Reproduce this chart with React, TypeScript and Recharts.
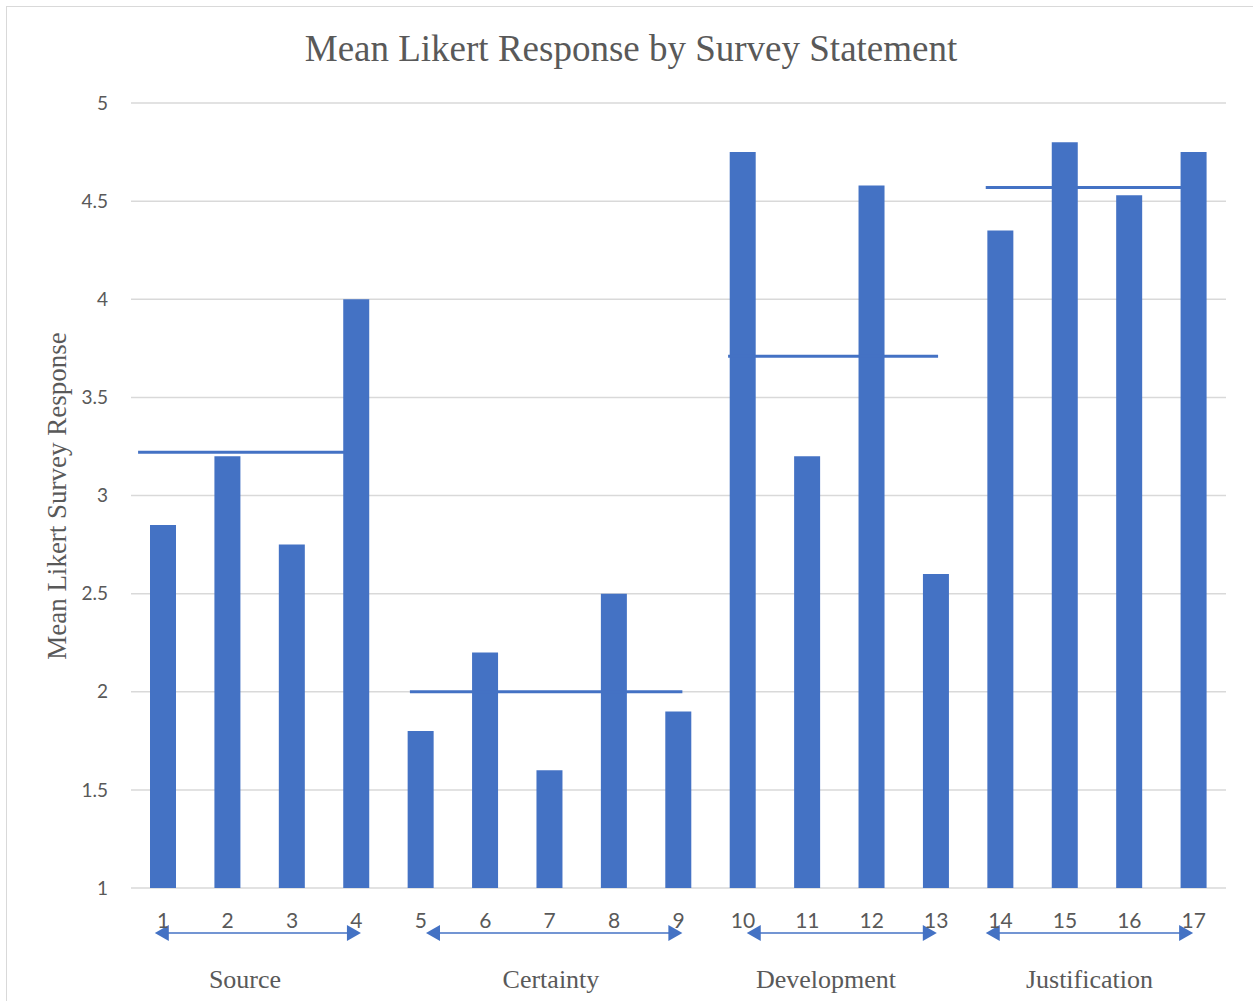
import { Bar, BarChart, CartesianGrid, ReferenceLine, XAxis, YAxis } from "recharts";

const statements = ["1", "2", "3", "4", "5", "6", "7", "8", "9", "10", "11", "12", "13", "14", "15", "16", "17"];
const meanResponses = [2.85, 3.2, 2.75, 4.0, 1.8, 2.2, 1.6, 2.5, 1.9, 4.75, 3.2, 4.58, 2.6, 4.35, 4.8, 4.53, 4.75];
const yTicks = [1, 1.5, 2, 2.5, 3, 3.5, 4, 4.5, 5];

const groupNames = ["Source", "Certainty", "Development", "Justification"];
const groupMeans = [3.22, 2.0, 3.71, 4.57];

// annotation extents, in statement units on the hidden numeric axis
const meanSpans: [number, number][] = [[0.61, 3.84], [4.83, 9.06], [9.77, 13.03], [13.77, 16.84]];
const arrowSpans: [number, number][] = [[0.87, 4.07], [5.08, 9.06], [10.06, 13.01], [13.77, 16.99]];
const labelCenters = [2.27, 7.02, 11.29, 15.38];
const arrowLevel = 0.771;

const chartData = statements.map((s, i) => ({ statement: s, position: i + 1, response: meanResponses[i] }));

const BLUE = "#4472C4";
const TEXT = "#595959";
const SERIF = "'Liberation Serif', 'Times New Roman', serif";
const SANS = "Lato, 'Open Sans', sans-serif";

function GroupArrow(props: any) {
    const { x1, y1, x2, name, start, end, center } = props;
    const head = 14;
    const half = 8;
    const labelX = x1 + ((center - start) / (end - start)) * (x2 - x1);
    return (
        <g>
            <line x1={x1 + head - 2} y1={y1} x2={x2 - head + 2} y2={y1} stroke={BLUE} strokeWidth={1.5} />
            <polygon points={`${x1},${y1} ${x1 + head},${y1 - half} ${x1 + head},${y1 + half}`} fill={BLUE} />
            <polygon points={`${x2},${y1} ${x2 - head},${y1 - half} ${x2 - head},${y1 + half}`} fill={BLUE} />
            <text x={labelX} y={y1 + 55} textAnchor="middle" fontFamily={SERIF} fontSize={26} fill={TEXT}>
                {name}
            </text>
        </g>
    );
}

export default function App() {
    return (
        <div style={{ position: "absolute", left: 0, top: 0, width: 1253, height: 1001, overflow: "hidden", background: "#fff" }}>
            <div style={{ position: "absolute", left: 6, top: 6, width: 1300, height: 1100, border: "1px solid #d9d9d9" }} />
            <BarChart
                width={1253}
                height={1001}
                data={chartData}
                margin={{ top: 103, right: 27, bottom: 83, left: 71 }}
                style={{ position: "absolute", left: 0, top: 0 }}
            >
                <text x={631} y={61} textAnchor="middle" fontFamily={SERIF} fontSize={37} fill={TEXT}>
                    Mean Likert Response by Survey Statement
                </text>
                <text
                    x={66}
                    y={496}
                    transform="rotate(-90, 66, 496)"
                    textAnchor="middle"
                    fontFamily={SERIF}
                    fontSize={27}
                    fill={TEXT}
                >
                    Mean Likert Survey Response
                </text>
                <CartesianGrid vertical={false} stroke="#d9d9d9" strokeWidth={1.5} />
                <XAxis
                    xAxisId="cat"
                    dataKey="statement"
                    interval={0}
                    height={30}
                    tickLine={false}
                    axisLine={false}
                    tickMargin={19}
                    tick={{ fill: TEXT, fontSize: 21, fontFamily: SANS }}
                />
                <XAxis
                    xAxisId="pos"
                    dataKey="position"
                    type="number"
                    domain={[0.5, 17.5]}
                    allowDataOverflow
                    hide
                />
                <YAxis
                    width={60}
                    domain={[1, 5]}
                    ticks={yTicks}
                    interval={0}
                    tickLine={false}
                    axisLine={false}
                    tickMargin={17}
                    tick={{ fill: TEXT, fontSize: 19, fontFamily: SANS }}
                />
                {groupNames.map((name, i) => (
                    <ReferenceLine
                        key={`mean-${name}`}
                        xAxisId="pos"
                        segment={[
                            { x: meanSpans[i][0], y: groupMeans[i] },
                            { x: meanSpans[i][1], y: groupMeans[i] },
                        ]}
                        stroke={BLUE}
                        strokeWidth={3}
                    />
                ))}
                <Bar xAxisId="cat" dataKey="response" fill={BLUE} barSize={26} isAnimationActive={false} />
                {groupNames.map((name, i) => (
                    <ReferenceLine
                        key={`arrow-${name}`}
                        xAxisId="pos"
                        ifOverflow="visible"
                        segment={[
                            { x: arrowSpans[i][0], y: arrowLevel },
                            { x: arrowSpans[i][1], y: arrowLevel },
                        ]}
                        shape={(p: any) => (
                            <GroupArrow
                                {...p}
                                name={name}
                                start={arrowSpans[i][0]}
                                end={arrowSpans[i][1]}
                                center={labelCenters[i]}
                            />
                        )}
                    />
                ))}
            </BarChart>
        </div>
    );
}
